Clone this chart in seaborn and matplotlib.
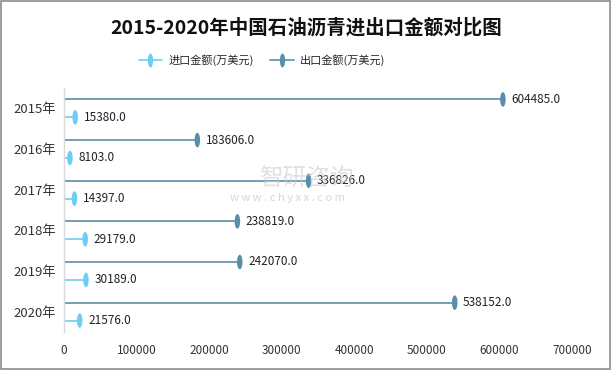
import numpy as np
import pandas as pd
import seaborn as sns
import matplotlib.pyplot as plt
from matplotlib.path import Path
from matplotlib.lines import Line2D
from matplotlib.patches import Rectangle
from matplotlib.legend_handler import HandlerLine2D

# --- data
years = ["2015年", "2016年", "2017年", "2018年", "2019年", "2020年"]
import_vals = [15380.0, 8103.0, 14397.0, 29179.0, 30189.0, 21576.0]
export_vals = [604485.0, 183606.0, 336826.0, 238819.0, 242070.0, 538152.0]
import_name = "进口金额(万美元)"
export_name = "出口金额(万美元)"
title = "2015-2020年中国石油沥青进出口金额对比图"

c_import = "#6dcdf3"
c_export = "#5a8ea8"

sns.set_theme(style="white")
plt.rcParams["font.family"] = ["Noto Sans CJK SC", "DejaVu Sans"]

df = pd.concat(
    [
        pd.DataFrame({"year": years, "value": export_vals, "series": export_name,
                      "y": np.arange(len(years)) - 0.22}),
        pd.DataFrame({"year": years, "value": import_vals, "series": import_name,
                      "y": np.arange(len(years)) + 0.22}),
    ],
    ignore_index=True,
)

# narrow ellipse marker
circ = Path.unit_circle()
ellipse = Path(circ.vertices * np.array([0.38, 1.0]), circ.codes)

fig = plt.figure(figsize=(6.12, 3.70), dpi=100)
ax = fig.add_axes([0.1046, 0.103, 0.8304, 0.659])

palette = {export_name: c_export, import_name: c_import}
for name, sub in df.groupby("series"):
    ax.hlines(sub["y"], 0, sub["value"], color=palette[name], lw=1.2, zorder=2)
sns.scatterplot(data=df, x="value", y="y", hue="series", palette=palette,
                marker=ellipse, s=110, linewidth=0, legend=False, ax=ax, zorder=3)

for _, r in df.iterrows():
    ax.annotate(f"{r['value']:.1f}", (r["value"], r["y"]), xytext=(6, 0),
                textcoords="offset points", va="center", ha="left",
                fontsize=8.5, color="#222222", zorder=4)

ax.set_xlim(0, 700000)
ax.set_ylim(len(years) - 0.5, -0.5)
ax.set_xticks(np.arange(0, 700001, 100000))
ax.set_yticks(np.arange(len(years)))
ax.set_yticklabels(years)
ax.tick_params(axis="x", labelsize=8.5, pad=9, colors="#333333", length=0)
ax.tick_params(axis="y", labelsize=9.5, pad=6, colors="#333333", length=0)
ax.set_xlabel("")
ax.set_ylabel("")
for s in ["top", "right", "bottom"]:
    ax.spines[s].set_visible(False)
ax.spines["left"].set_color("#d9d9d9")
ax.spines["left"].set_linewidth(1.0)


class EndMarker(HandlerLine2D):
    def get_xdata(self, legend, xdescent, ydescent, width, height, fontsize):
        xdata = np.array([-xdescent, -xdescent + width])
        return xdata, xdata[-1:]


handles = [
    Line2D([], [], color=c_import, lw=1.2, marker=ellipse, markersize=10, markeredgewidth=0),
    Line2D([], [], color=c_export, lw=1.2, marker=ellipse, markersize=10, markeredgewidth=0),
]
fig.legend(handles, [import_name, export_name], loc="center", bbox_to_anchor=(0.428, 0.838),
           ncol=2, frameon=False, fontsize=8, handlelength=2.1, columnspacing=1.5,
           handletextpad=0.55, handler_map={Line2D: EndMarker()})

fig.text(0.5, 0.925, title, ha="center", va="center", fontsize=14, fontweight="bold",
         color="#111111")

# watermark
fig.text(0.50, 0.515, "智研咨询", ha="center", va="center", fontsize=17, color="#c8ccd4",
         alpha=0.6, zorder=0)
fig.text(0.47, 0.465, "w w w . c h y x x . c o m", ha="center", va="center", fontsize=8,
         color="#c8ccd4", alpha=0.8, zorder=0)

fig.patches.append(Rectangle((0.002, 0.003), 0.995, 0.993, transform=fig.transFigure,
                             fill=False, edgecolor="#8c8c8c", lw=1.2))

fig.savefig("out.png", dpi=100)
